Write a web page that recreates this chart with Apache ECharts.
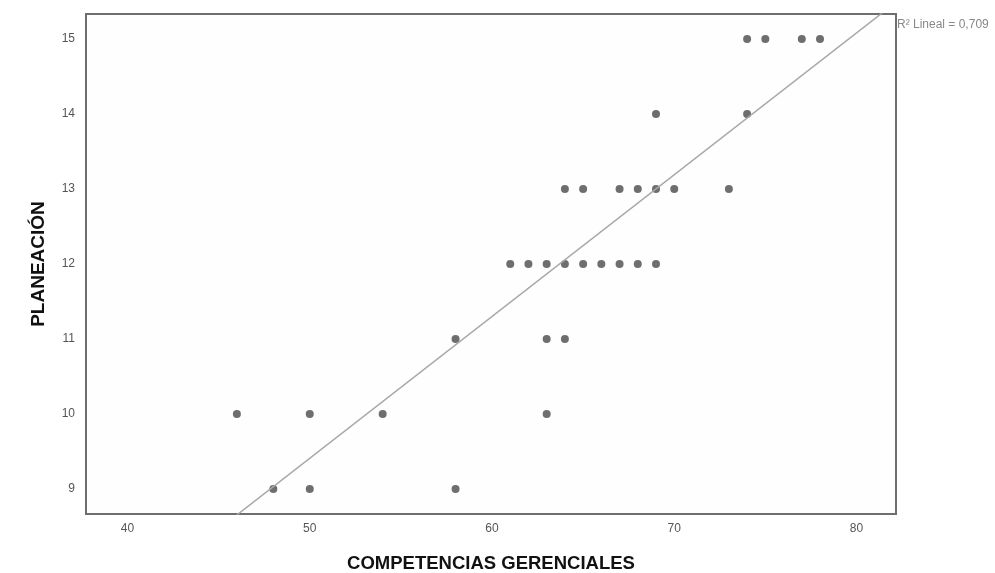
<!DOCTYPE html>
<html>
<head>
<meta charset="utf-8">
<script src="https://cdn.jsdelivr.net/npm/echarts@6/dist/echarts.min.js"></script>
<style>
html,body{margin:0;padding:0;background:#ffffff;}
#chart{width:995px;height:573px;}
</style>
</head>
<body>
<div id="chart"></div>
<script>
// Data
var competencias = [74, 75, 77, 78, 69, 74, 64, 65, 67, 68, 69, 70, 73, 61, 62, 63, 64, 65, 66, 67, 68, 69, 58, 63, 64, 46, 50, 54, 63, 48, 50, 58];
var planeacion   = [15, 15, 15, 15, 14, 14, 13, 13, 13, 13, 13, 13, 13, 12, 12, 12, 12, 12, 12, 12, 12, 12, 11, 11, 11, 10, 10, 10, 10, 9, 9, 9];
var fitIntercept = -0.04;
var fitSlope = 0.189;
var r2Label = 'R\u00B2 Lineal = 0,709';
var xTitle = 'COMPETENCIAS GERENCIALES';
var yTitle = 'PLANEACI\u00D3N';
var xMin = 37.72, xMax = 82.17;
var yMin = 8.667, yMax = 15.333;

var points = competencias.map(function (x, i) { return [x, planeacion[i]]; });
var fitLine = [xMin, xMax].map(function (x) { return [x, fitIntercept + fitSlope * x]; });

var chart = echarts.init(document.getElementById('chart'), null, {renderer: 'canvas'});
chart.setOption({
  backgroundColor: '#ffffff',
  animation: false,
  grid: {left: 86, right: 99, top: 14, bottom: 59, outerBoundsMode: 'none', containLabel: false,
         show: true, borderColor: '#6e6e6e', borderWidth: 2, backgroundColor: '#fefefe'},
  xAxis: {
    type: 'value', min: xMin, max: xMax, splitNumber: 5,
    name: xTitle, nameLocation: 'middle', nameGap: 40,
    nameTextStyle: {fontFamily: 'Liberation Sans', fontWeight: 'bold', fontSize: 18.5, color: '#111'},
    axisLine: {show: true, lineStyle: {color: '#6e6e6e', width: 2}},
    axisTick: {show: false},
    splitLine: {show: false},
    axisLabel: {showMinLabel: false, showMaxLabel: false, margin: 9, fontFamily: 'Liberation Sans', fontSize: 12, color: '#555'}
  },
  yAxis: {
    type: 'value', min: yMin, max: yMax, splitNumber: 6,
    name: yTitle, nameLocation: 'middle', nameGap: 38, nameRotate: 90,
    nameTextStyle: {fontFamily: 'Liberation Sans', fontWeight: 'bold', fontSize: 19, color: '#111'},
    axisLine: {show: true, lineStyle: {color: '#6e6e6e', width: 2}},
    axisTick: {show: false},
    splitLine: {show: false},
    axisLabel: {showMinLabel: false, showMaxLabel: false, margin: 11, fontFamily: 'Liberation Sans', fontSize: 12, color: '#555'}
  },
  series: [
    {
      type: 'line', data: fitLine, showSymbol: false, clip: true, silent: true,
      lineStyle: {color: '#a8a8a8', width: 1.5}
    },
    {
      type: 'scatter', data: points, symbol: 'circle', symbolSize: 8,
      itemStyle: {color: '#4a4a4a'}
    }
  ],
  graphic: [
    {type: 'text', left: 897, top: 19, style: {text: r2Label, fontFamily: 'Liberation Sans', fontSize: 12, fill: '#888'}}
  ]
});
</script>
</body>
</html>
